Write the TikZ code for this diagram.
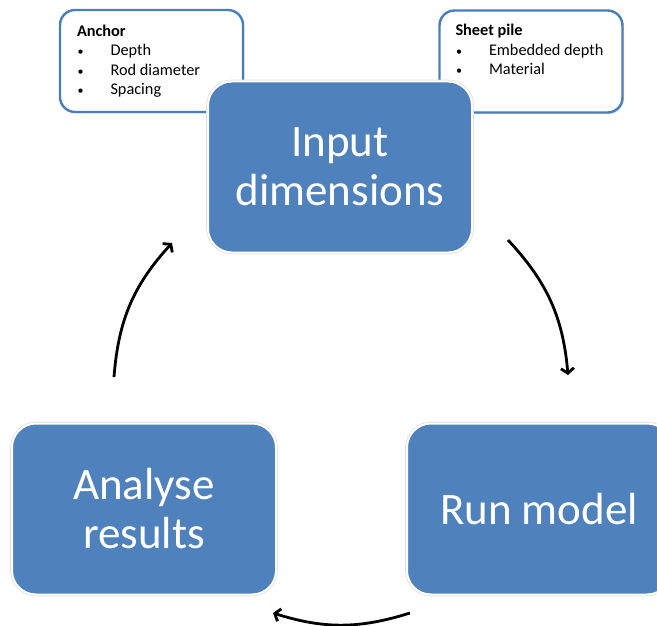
\documentclass[tikz,border=0pt]{standalone}
\usepackage{fontspec}
\setmainfont{Carlito}
\usetikzlibrary{positioning, arrows.meta, shadows}
\definecolor{boxblue}{HTML}{4F81BD}
\definecolor{rimblue}{HTML}{4A7EBB}
\newcommand\itemdot{\makebox[33.5pt][l]{\hspace{0.5pt}{\fontsize{12}{12}\selectfont\textbullet}}}

\begin{document}
\begin{tikzpicture}[x=1pt, y=1pt,
             stage/.style = {shape=rectangle, rounded corners=24pt, fill=boxblue, draw=white, line width=2pt,
                             preaction={draw=black!12, line width=3.6pt},
                             text=white, align=center, font=\fontsize{45}{49}\selectfont,
                             minimum width=264pt, minimum height=171pt},
             note/.style = {shape=rectangle, rounded corners=15pt, fill=white, draw=rimblue, line width=2.4pt,
                            drop shadow={shadow xshift=1.5pt, shadow yshift=-1.5pt, opacity=0.25},
                            minimum width=183pt, minimum height=102pt},
             notetext/.style = {inner sep=0pt, align=left, font=\fontsize{16.3}{19.5}\selectfont},
             cycle/.style = {-{Straight Barb[length=5pt, width=13pt]}, line width=2.8pt}]
\clip (0,0) rectangle (657,-626);

% parameter notes
\node [note] (anchorbox) at (151.5,-61) {};
\node [note] (pilebox) at (531,-61.5) {};
\node [notetext, below right=16pt and 18pt of anchorbox.north west] (anchortext)
  {\textbf{Anchor}\\\itemdot Depth\\\itemdot Rod diameter\\\itemdot Spacing};
\node [notetext, below right=15pt and 17pt of pilebox.north west] (piletext)
  {\textbf{Sheet pile}\\\itemdot Embedded depth\\\itemdot Material};

% stages of the cycle
\node [stage] (input) at (340,-167) {Input\\dimensions};
\node [stage] (run) at (539,-509) {Run model};
\node [stage] (analyse) at (144,-509) {Analyse\\results};

\coordinate (runin) at (568,-375);
\coordinate (inputout) at (508,-240);
\coordinate (runout) at (410,-613);
\coordinate (analysein) at (273,-613);
\coordinate (analyseout) at (114,-377);
\coordinate (inputin) at (172,-243);

\draw [cycle] (inputout) to[bend left=19] (runin);
\draw [cycle] (runout) to[bend left=17.5] (analysein);
\draw [cycle] (analyseout) to[bend left=19] (inputin);

\end{tikzpicture}
\end{document}
